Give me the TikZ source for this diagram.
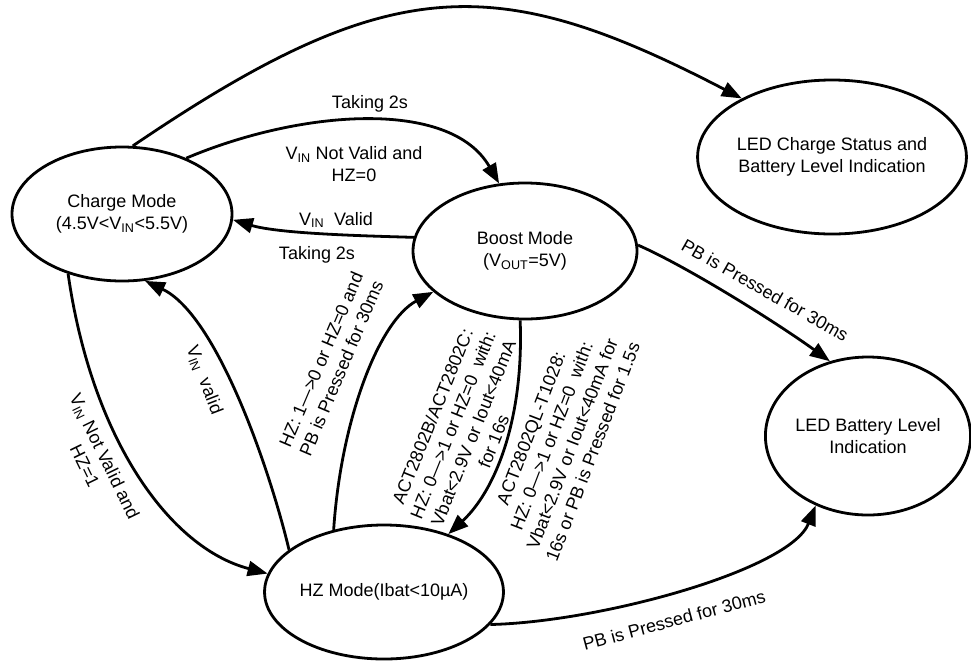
\documentclass[tikz,border=0pt]{standalone}
\usepackage{fontspec}
\setmainfont{Liberation Sans}
\usetikzlibrary{arrows.meta,shapes.geometric}
\begin{document}
\begin{tikzpicture}[x=1pt,y=-1pt,
  state/.style={draw,ellipse,line width=2.8pt,inner sep=0pt,align=center,font=\fontsize{18}{22}\selectfont},
  lbl/.style={inner sep=0pt,align=center,font=\fontsize{18}{22}\selectfont},
  conn/.style={line width=2.8pt,-{Triangle[length=20pt,width=15pt]}},
]
\useasboundingbox (0,0) rectangle (971,662);
% states
\node[state,minimum width=220pt,minimum height=134pt] (charge) at (122,214) {Charge Mode\\(4.5V<V\textsubscript{IN}<5.5V)};
\node[state,minimum width=224pt,minimum height=136pt] (boost) at (525,251) {Boost Mode\\(V\textsubscript{OUT}=5V)};
\node[state,minimum width=262pt,minimum height=154pt] (ledcs) at (832,157) {LED Charge Status and\\Battery Level Indication};
\node[state,minimum width=226pt,minimum height=134pt] (hz) at (384,592) {HZ Mode(Ibat<10µA)};
\node[state,minimum width=200pt,minimum height=158pt] (ledbl) at (868,436) {LED Battery Level\\Indication};
% connectors
\draw[conn] (charge.81.5) .. controls (389,-28) and (495,-30) .. (ledcs.147.7);
\draw[conn] (charge.41.6) .. controls (300,110) and (450,98) .. (boost.111.7);
\draw[conn] (boost.173) .. controls (370,236) and (280,234) .. (charge.-3);
\draw[conn] (hz.156) .. controls (270,470) and (217,315) .. (charge.-71);
\draw[conn] (charge.-132) .. controls (92,440) and (170,548) .. (hz.171);
\draw[conn] (hz.129) .. controls (341,419) and (379,321) .. (boost.204);
\draw[conn] (boost.-94) .. controls (524,420) and (495,491) .. (hz.42);
\draw[conn] (boost.3) .. controls (690,268) and (780,325) .. (ledbl.117);
\draw[conn] (hz.-17.8) .. controls (600,622) and (790,570) .. (ledbl.233);
% labels
\node[lbl] (l1) at (370,104) {Taking 2s};
\node[lbl] (l2) at (354,164) {V\textsubscript{IN} Not Valid and\\HZ=0};
\node[lbl] (l3) at (336,220) {V\textsubscript{IN}\ \ Valid};
\node[lbl] (l4) at (317,255) {Taking 2s};
\node[lbl,rotate=-69] (l5) at (204,380) {V\textsubscript{IN}\ \ valid};
\node[lbl,rotate=-64] (l6) at (95,461) {V\textsubscript{IN} Not Valid and\\HZ=1};
\node[lbl,rotate=67] (l7) at (331,364) {HZ: 1—>0 or HZ=0 and\\PB is Pressed for 30ms};
\node[lbl,rotate=68] (l8) at (463,429) {ACT2802B/ACT2802C:\\HZ: 0—>1 or HZ=0\ \ with:\\Vbat<2.9V or Iout<40mA\\for 16s};
\node[lbl,rotate=69] (l9) at (562,440) {ACT2802QL-T1028:\\HZ: 0—>1 or HZ=0\ \ with:\\Vbat<2.9V or Iout<40mA for\\16s or PB is Pressed for 1.5s};
\node[lbl,rotate=-29.5] (l10) at (765,290) {PB is Pressed for 30ms};
\node[lbl,rotate=15] (l11) at (674,620) {PB is Pressed for 30ms};
\end{tikzpicture}
\end{document}
